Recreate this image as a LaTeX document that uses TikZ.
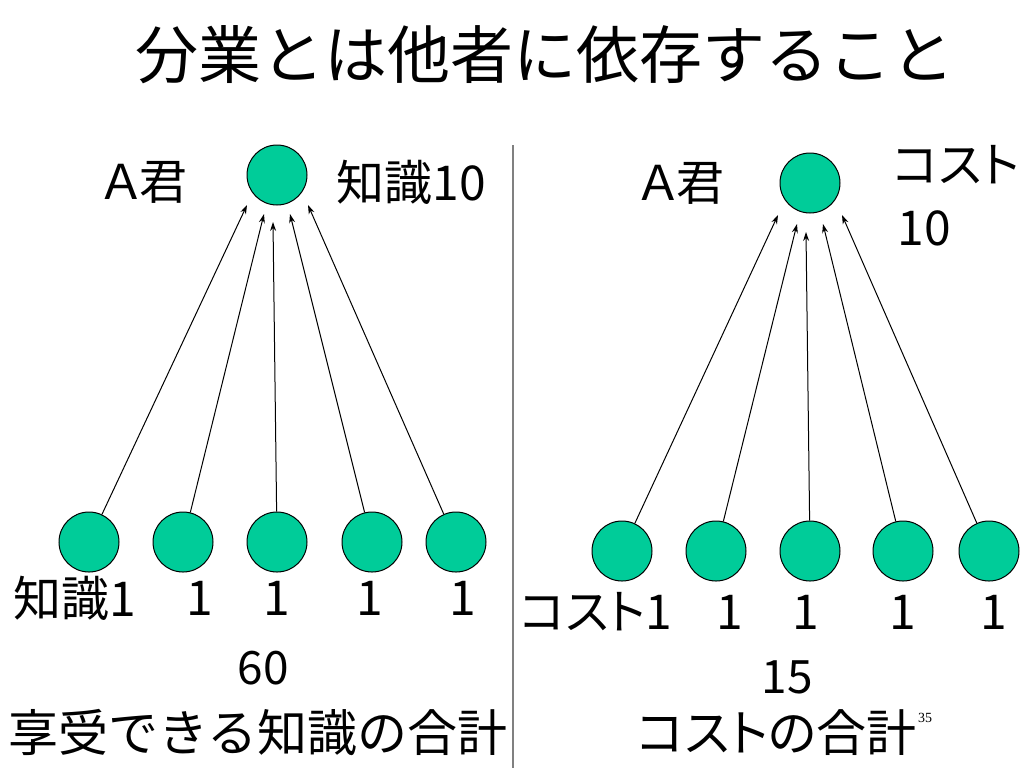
\documentclass[tikz,border=0pt]{standalone}
\usepackage{fontspec}
\setmainfont[RawFeature={+palt}]{Noto Sans CJK JP}
\newfontfamily\widefont{Noto Sans CJK JP}
\newfontfamily\pagefont{Liberation Serif}
\usetikzlibrary{arrows.meta}
\definecolor{persongreen}{RGB}{0,204,153}

\begin{document}
\begin{tikzpicture}[x=0.5pt, y=-0.5pt, >={Stealth[length=4.5pt,width=3pt]}]

    \tikzset{%
    every person/.style={
        circle,
        draw,
        fill=persongreen,
        line width=0.5pt,
        inner sep=0pt,
        minimum size=30pt
        },
    label text/.style={
        inner sep=0pt,
        font=\fontsize{24}{28}\selectfont
        },
    sum text/.style={
        inner sep=0pt,
        font=\fontsize{25}{30}\selectfont
        },
    flow/.style={->, line width=0.5pt},
    }

    \useasboundingbox (0,0) rectangle (1024,768);

    % Title
    \node [inner sep=0pt, font=\widefont\fontsize{31.5}{36}\selectfont] (title) at (545,55) {分業とは他者に依存すること};

    % Divider
    \draw [gray, line width=1pt] (513,145) -- (513,768);

    % Left: A and the five who give knowledge
    \node [every person] (knowA) at (277,175) {};
    \foreach \x [count=\i] in {89,183,277,372,456}
    \node [every person] (know-\i) at (\x,542) {};
    \foreach \x/\y [count=\i] in {247/205,264/214,273/222,290/214,308/205}
    \coordinate (knowtip-\i) at (\x,\y);
    \foreach \i in {1,...,5} \draw [flow] (know-\i) -- (knowtip-\i);

    % Left labels
    \node [label text] (knowA-name) at (145,182) {Ａ君};
    \node [label text] (knowA-value) at (411,182) {知識10};
    \node [label text] (know-value-1) at (75,598) {知識1};
    \foreach \x [count=\i from 2] in {200,277,370,463}
    \node [label text] (know-value-\i) at (\x,598) {1};
    \node [label text, font=\fontsize{23}{26}\selectfont] (know-total) at (263,668) {60};
    \node [sum text, font=\widefont\fontsize{25}{30}\selectfont] (know-total-name) at (258,733) {享受できる知識の合計};

    % Right: A and the five who bear cost
    \node [every person] (costA) at (810,183) {};
    \foreach \x [count=\i] in {622,716,810,903,989}
    \node [every person] (cost-\i) at (\x,551) {};
    \foreach \x/\y [count=\i] in {778/215,797/224,806/232,823/224,842/215}
    \coordinate (costtip-\i) at (\x,\y);
    \foreach \i in {1,...,5} \draw [flow] (cost-\i) -- (costtip-\i);

    % Right labels
    \node [label text] (costA-name) at (682,183) {Ａ君};
    \node [label text, anchor=west] (costA-value) at (893,165) {コスト};
    \node [label text, anchor=west] (costA-number) at (897,228) {10};
    \node [label text] (cost-value-1) at (596,612) {コスト1};
    \foreach \x [count=\i from 2] in {730,806,903,994}
    \node [label text] (cost-value-\i) at (\x,612) {1};
    \node [label text, font=\fontsize{23}{26}\selectfont] (cost-total) at (787,677) {15};
    \node [sum text] (cost-total-name) at (777,733) {コストの合計};

    % Page number
    \node [inner sep=0pt, font=\pagefont\fontsize{7}{8}\selectfont] (page) at (925,718) {35};

\end{tikzpicture}
\end{document}
